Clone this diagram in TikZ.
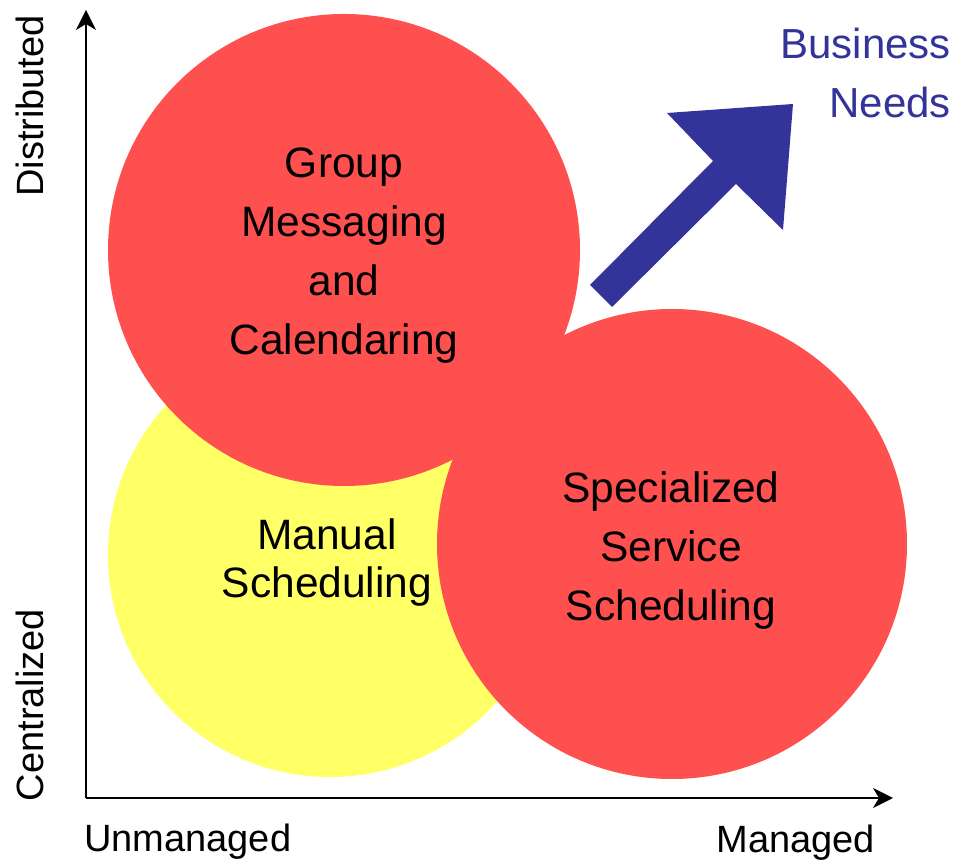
\documentclass[tikz,border=0pt]{standalone}
\usepackage{fontspec}
\setmainfont{Liberation Sans}
\usetikzlibrary{arrows.meta}

\definecolor{bubblered}{RGB}{255,80,80}
\definecolor{bubbleyellow}{RGB}{255,255,102}
\definecolor{needsblue}{RGB}{51,51,153}

\tikzset{
  axisline/.style={line width=1.8pt, -{Stealth[length=20pt,width=20pt,inset=6pt]}},
  bubble/.style={circle, draw=none, inner sep=0pt},
  biglabel/.style={align=center, inner sep=0pt,
    font=\fontsize{42.5}{59}\selectfont},
  axislabel/.style={inner sep=0pt, font=\fontsize{38}{44}\selectfont},
}

\begin{document}
\begin{tikzpicture}[x=1pt,y=1pt]
  \useasboundingbox (0,0) rectangle (956,861);

  % bubbles: the yellow one sits underneath the two red ones
  \node[bubble, fill=bubbleyellow, minimum size=444pt] (manual) at (330,306) {};
  \node[bubble, fill=bubblered, minimum size=472pt] (group) at (344,611) {};
  \node[bubble, fill=bubblered, minimum size=470pt] (special) at (672,317) {};

  % axes
  \coordinate (origin) at (86,63);
  \coordinate (ytop) at (86,851);
  \coordinate (xend) at (893,63);
  \draw[axisline] (origin) -- (ytop);
  \draw[axisline] (origin) -- (xend);

  % business-needs arrow
  \fill[needsblue] (590,576) -- (713,700) -- (667,748) -- (793,757)
    -- (783,631) -- (736,677) -- (612,554) -- cycle;

  % bubble labels
  \node[biglabel] (grouptext) at (344,605.5) {Group\\Messaging\\and\\Calendaring};
  \node[biglabel] (specialtext) at (671,310.5) {Specialized\\Service\\Scheduling};
  \node[biglabel, font=\fontsize{42.5}{48}\selectfont] (manualtext) at (327,298.5) {Manual\\Scheduling};
  \node[align=right, inner sep=0pt, anchor=east, text=needsblue,
    font=\fontsize{42}{59}\selectfont] (needs) at (951,788) {Business\\Needs};

  % axis labels
  \node[axislabel, rotate=90, anchor=base] (distributed) at (43,755) {Distributed};
  \node[axislabel, rotate=90, anchor=base] (centralized) at (43,156) {Centralized};
  \node[axislabel, anchor=base west] (unmanaged) at (84,9) {Unmanaged};
  \node[axislabel, anchor=base east] (managed) at (875,8) {Managed};
\end{tikzpicture}
\end{document}
